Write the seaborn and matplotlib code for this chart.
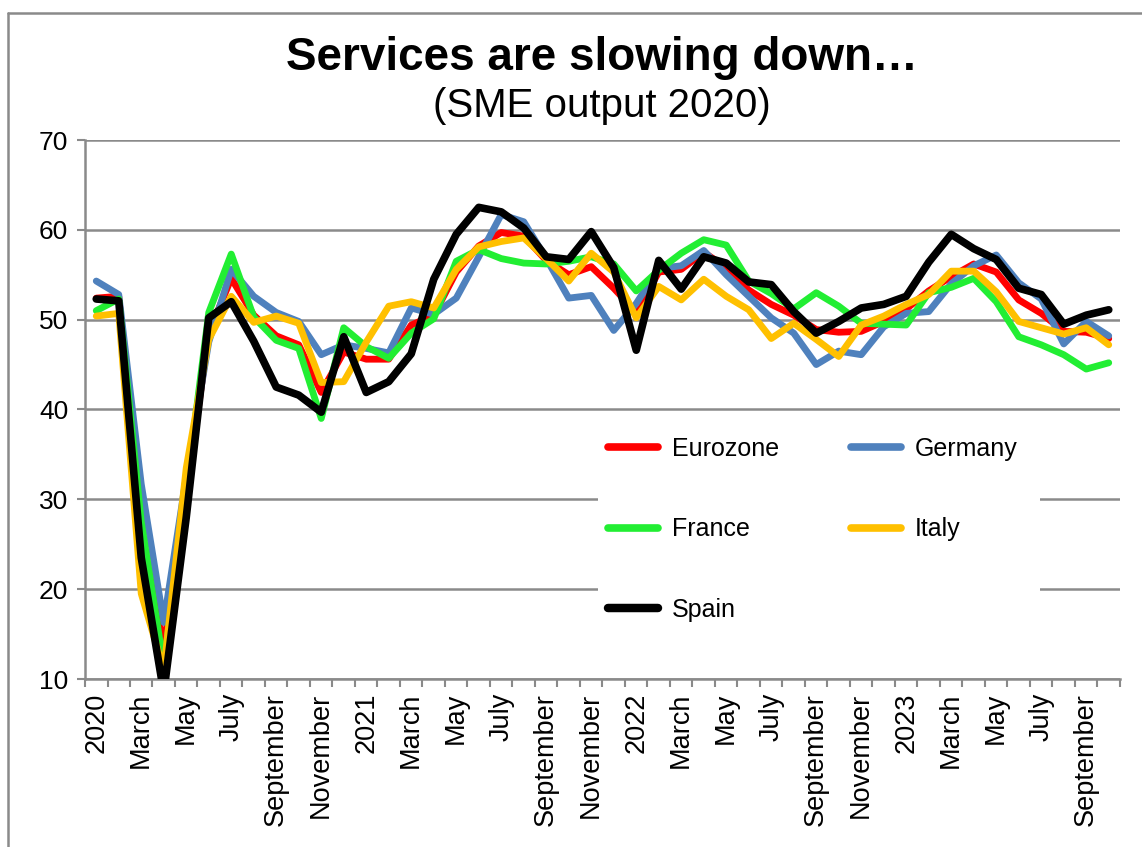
import numpy as np
import pandas as pd
import matplotlib
matplotlib.use("Agg")
import matplotlib.pyplot as plt
from matplotlib.lines import Line2D
from matplotlib.patches import Rectangle
import seaborn as sns

# Monthly readings, January 2020 to October 2023
tick_labels = ["2020", "March", "May", "July", "September", "November",
               "2021", "March", "May", "July", "September", "November",
               "2022", "March", "May", "July", "September", "November",
               "2023", "March", "May", "July", "September"]

eurozone = [52.4, 52.6, 26.4, 13.5, 30.5, 48.5, 54.6, 50.5, 48.2, 47.2, 41.9, 46.4,
            45.6, 45.6, 49.4, 50.5, 55.3, 58.2, 59.7, 59.3, 56.6, 55.0, 55.9, 53.5,
            50.8, 55.3, 55.6, 57.5, 55.8, 53.3, 51.7, 50.5, 48.9, 48.6, 48.7, 49.8,
            51.2, 53.2, 54.8, 56.2, 55.3, 52.2, 50.7, 48.7, 48.6, 47.9]
germany = [54.3, 52.8, 31.7, 16.3, 32.5, 47.5, 55.6, 52.6, 50.8, 49.8, 46.1, 47.2,
           46.8, 46.3, 51.3, 50.6, 52.4, 57.0, 61.7, 60.9, 56.8, 52.4, 52.7, 48.8,
           51.8, 55.7, 56.0, 57.7, 55.0, 52.6, 50.2, 48.5, 45.0, 46.5, 46.1, 49.2,
           50.7, 50.9, 54.0, 56.0, 57.2, 54.1, 52.3, 47.3, 49.8, 48.2]
france = [51.0, 52.3, 27.5, 11.5, 31.0, 50.8, 57.3, 50.3, 47.7, 46.8, 39.0, 49.1,
          47.0, 45.7, 48.5, 50.1, 56.5, 57.8, 56.8, 56.3, 56.2, 56.5, 57.0, 56.2,
          53.2, 55.5, 57.4, 58.9, 58.3, 54.3, 52.9, 51.2, 53.0, 51.5, 49.6, 49.5,
          49.4, 53.0, 53.6, 54.6, 52.0, 48.1, 47.2, 46.1, 44.5, 45.2]
italy = [50.4, 50.7, 19.5, 11.0, 33.5, 47.8, 52.6, 49.7, 50.4, 49.6, 43.0, 43.1,
         47.5, 51.5, 52.0, 51.3, 55.6, 58.1, 58.7, 59.1, 56.8, 54.3, 57.4, 55.3,
         50.2, 53.7, 52.2, 54.5, 52.6, 51.1, 47.9, 49.6, 47.8, 45.9, 49.4, 50.4,
         51.7, 52.8, 55.4, 55.4, 53.1, 49.8, 49.1, 48.4, 49.1, 47.2]
spain = [52.3, 52.1, 23.5, 8.5, 28.0, 50.2, 52.0, 47.6, 42.5, 41.6, 39.7, 48.1,
         41.9, 43.1, 46.2, 54.5, 59.5, 62.5, 62.0, 60.2, 57.0, 56.7, 59.8, 55.8,
         46.6, 56.6, 53.4, 57.0, 56.3, 54.2, 53.9, 50.9, 48.5, 49.8, 51.3, 51.7,
         52.6, 56.4, 59.5, 57.9, 56.7, 53.5, 52.8, 49.5, 50.5, 51.1]

series_names = ["Eurozone", "Germany", "France", "Italy", "Spain"]
series_values = [eurozone, germany, france, italy, spain]
colors = {"Eurozone": "#ff0000", "Germany": "#4f81bd", "France": "#22ee33",
          "Italy": "#ffc000", "Spain": "#000000"}
widths = {"Eurozone": 4.9, "Germany": 4.9, "France": 4.9, "Italy": 4.9, "Spain": 5.5}

n = len(eurozone)
month_pos = np.arange(n) + 0.5
frames = [pd.DataFrame({"pos": month_pos, "value": vals, "series": name})
          for name, vals in zip(series_names, series_values)]
df = pd.concat(frames, ignore_index=True)

sns.set_style("white")
plt.rcParams["font.family"] = ["Liberation Sans", "DejaVu Sans"]
plt.rcParams["text.color"] = "black"
plt.rcParams["xtick.color"] = "black"
plt.rcParams["ytick.color"] = "black"
plt.rcParams["xtick.labelcolor"] = "black"
plt.rcParams["ytick.labelcolor"] = "black"

W, H = 1142, 847
fig = plt.figure(figsize=(W / 100, H / 100), dpi=100)
ax = fig.add_axes([85 / W, 1 - 679 / H, (1120 - 85) / W, (679 - 140) / H])

grey = "#8a8a8a"

# lines, one per country, drawn in legend order so Spain sits on top
handles = {}
for i, name in enumerate(series_names):
    sub = df[df["series"] == name]
    sns.lineplot(data=sub, x="pos", y="value", color=colors[name],
                 linewidth=widths[name], sort=False, ax=ax, legend=False,
                 zorder=3 + i)
    line = ax.get_lines()[-1]
    line.set_solid_joinstyle("round")
    line.set_solid_capstyle("round")
    handles[name] = Line2D([], [], color=colors[name], linewidth=widths[name] + 0.6)

ax.set_xlim(0, n)
ax.set_ylim(10, 70)
ax.set_xlabel("")
ax.set_ylabel("")

# y axis and gridlines
ax.set_yticks(np.arange(10, 71, 10))
ax.yaxis.grid(True, color=grey, linewidth=1.8)
ax.xaxis.grid(False)
ax.set_axisbelow(True)
ax.tick_params(axis="y", which="major", direction="out", length=6, width=1.5,
               color=grey, labelcolor="black", labelsize=19, pad=6, left=True)

# x axis: boundary ticks every month, labels every second month
ax.set_xticks(np.arange(0, n + 1))
ax.set_xticklabels([])
ax.set_xticks(month_pos[::2], minor=True)
ax.set_xticklabels(tick_labels, minor=True, rotation=90, fontsize=19.5,
                   va="top", ha="center", color="black")
ax.tick_params(axis="x", which="major", direction="out", length=6, width=1.5,
               color=grey, bottom=True)
ax.tick_params(axis="x", which="minor", length=0, pad=10)

for side in ["top", "right"]:
    ax.spines[side].set_visible(False)
for side in ["left", "bottom"]:
    ax.spines[side].set_color(grey)
    ax.spines[side].set_linewidth(1.8)

# white panel behind the legend
ax.add_patch(Rectangle((0.4957, 0.054), 0.427, 0.436, transform=ax.transAxes,
                       facecolor="white", edgecolor="none", zorder=2))

order = ["Eurozone", "France", "Spain", "Germany", "Italy"]
leg = ax.legend([handles[k] for k in order], order, ncol=2, loc="upper left",
                bbox_to_anchor=(608 / W, 1 - 437 / H), bbox_transform=fig.transFigure,
                frameon=False, fontsize=18, handlelength=2.0, handletextpad=0.55,
                columnspacing=2.9, labelspacing=2.25, borderpad=0, borderaxespad=0)
for t in leg.get_texts():
    t.set_color("black")
leg.set_zorder(20)

# titles
fig.text(602 / W, 1 - 58 / H, "Services are slowing down…", ha="center",
         va="center", fontsize=33, fontweight="bold", color="black")
fig.text(602 / W, 1 - 106 / H, "(SME output 2020)", ha="center", va="center",
         fontsize=29, color="black")

# outer frame lines
fig.add_artist(Line2D([8 / W, 1], [1 - 13 / H, 1 - 13 / H], transform=fig.transFigure,
                      color=grey, linewidth=1.8))
fig.add_artist(Line2D([8 / W, 8 / W], [0, 1 - 13 / H], transform=fig.transFigure,
                      color=grey, linewidth=1.8))

fig.savefig("out.png", dpi=100, facecolor="white")
